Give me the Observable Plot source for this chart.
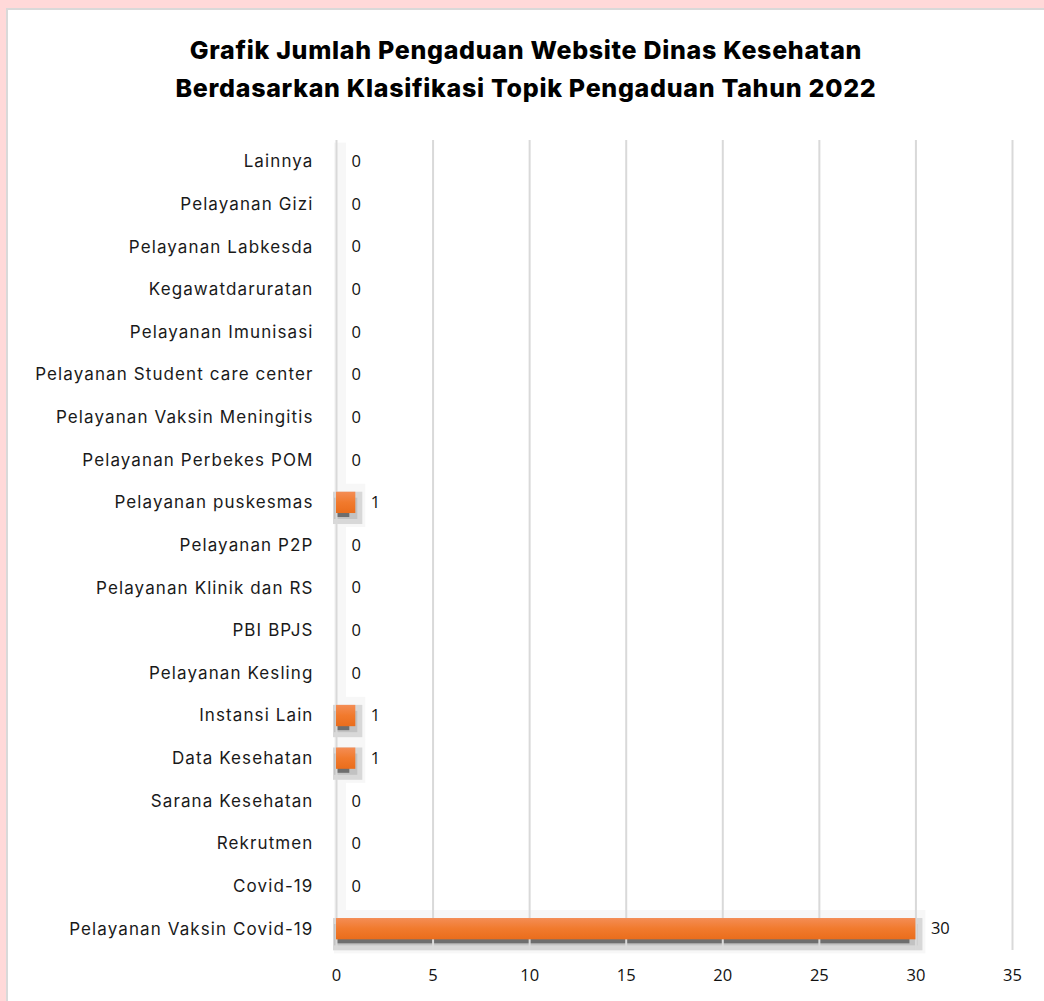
<!DOCTYPE html>
<html>
<head>
<meta charset="utf-8">
<script src="https://cdn.jsdelivr.net/npm/d3@7"></script>
<script src="https://cdn.jsdelivr.net/npm/@observablehq/plot@0.6"></script>
<style>
  html, body { margin: 0; padding: 0; width: 1044px; height: 1001px; overflow: hidden; background: #ffd9d9; }
  #panel { position: absolute; left: 6px; top: 8px; right: 0; bottom: 0; background: #fff;
           border-left: 2px solid #d9d9d9; border-top: 2px solid #d9d9d9; }
  #title { position: absolute; left: 8px; right: 0; top: 31px; text-align: center;
           font-family: Inter, "Open Sans", sans-serif; font-weight: 800; font-size: 25px;
           line-height: 38px; color: #000; letter-spacing: 0.7px; }
  #chart { position: absolute; left: 0; top: 130px; }
</style>
</head>
<body>
<div id="panel"></div>
<div id="title">Grafik Jumlah Pengaduan Website Dinas Kesehatan<br>Berdasarkan Klasifikasi Topik Pengaduan Tahun 2022</div>
<div id="chart"></div>
<script>
const categories = ["Lainnya","Pelayanan Gizi","Pelayanan Labkesda","Kegawatdaruratan","Pelayanan Imunisasi","Pelayanan Student care center","Pelayanan Vaksin Meningitis","Pelayanan Perbekes POM","Pelayanan puskesmas","Pelayanan P2P","Pelayanan Klinik dan RS","PBI BPJS","Pelayanan Kesling","Instansi Lain","Data Kesehatan","Sarana Kesehatan","Rekrutmen","Covid-19","Pelayanan Vaksin Covid-19"];
const values = [0,0,0,0,0,0,0,0,1,0,0,0,0,1,1,0,0,0,30];
const xTicks = [0,5,10,15,20,25,30,35];

const data = categories.map((c, i) => ({category: c, value: values[i]}));
const nonzero = data.filter(d => d.value > 0);

const chart = Plot.plot({
  width: 1044,
  height: 871,
  marginLeft: 336,
  marginRight: 32,
  marginTop: 10,
  marginBottom: 51,
  style: {fontFamily: "Inter, sans-serif", color: "#1a1a1a", background: "transparent"},
  x: {domain: [0, 35], ticks: xTicks, label: null},
  y: {domain: categories, paddingInner: 0.5, paddingOuter: 0.25, round: false, label: null},
  marks: [
    // faint halo of the bar shadow
    Plot.barX(data, {x: "value", y: "category", fill: "#f7f7f7", insetTop: -8, insetBottom: -14, insetLeft: -2, insetRight: -10}),
    // soft grey shadow
    Plot.barX(nonzero, {x: "value", y: "category", fill: "#d8d8d8", insetTop: 0, insetBottom: -11, insetLeft: -3, insetRight: -7}),
    Plot.barX(nonzero, {x: "value", y: "category", fill: "#c2c2c2", dy: 6, insetLeft: -2, insetRight: -2}),
    // darker strip just below the bar
    Plot.barX(nonzero, {x: "value", y: "category", fill: "#6e6e6e", dy: 4, insetRight: 6}),
    Plot.ruleX(xTicks, {stroke: "#d9d9d9", strokeWidth: 2}),
    Plot.barX(data, {x: "value", y: "category", fill: "url(#orangeGrad)"}),
    Plot.text(data, {x: "value", y: "category", text: d => String(d.value), dx: 15, textAnchor: "start",
      fontSize: 16.5, fontFamily: "'Open Sans', sans-serif", fill: "#111"}),
    Plot.axisX({ticks: xTicks, tickSize: 0, tickPadding: 19, fontSize: 16.5, fontFamily: "'Open Sans', sans-serif", label: null, color: "#111"}),
    Plot.axisY({tickSize: 0, tickPadding: 23, fontSize: 17, label: null, color: "#1a1a1a"})
  ]
});

const defs = d3.select(chart).insert("defs", ":first-child");
const grad = defs.append("linearGradient").attr("id", "orangeGrad").attr("x1", 0).attr("y1", 0).attr("x2", 0).attr("y2", 1);
grad.append("stop").attr("offset", "0%").attr("stop-color", "#f48d55");
grad.append("stop").attr("offset", "50%").attr("stop-color", "#f17a2d");
grad.append("stop").attr("offset", "100%").attr("stop-color", "#ea6d1c");

// widen category labels to approximate the reference's geometric font
d3.select(chart).selectAll("g[aria-label='y-axis tick label'] text").style("letter-spacing", "1.1px");

document.getElementById("chart").appendChild(chart);
</script>
</body>
</html>
